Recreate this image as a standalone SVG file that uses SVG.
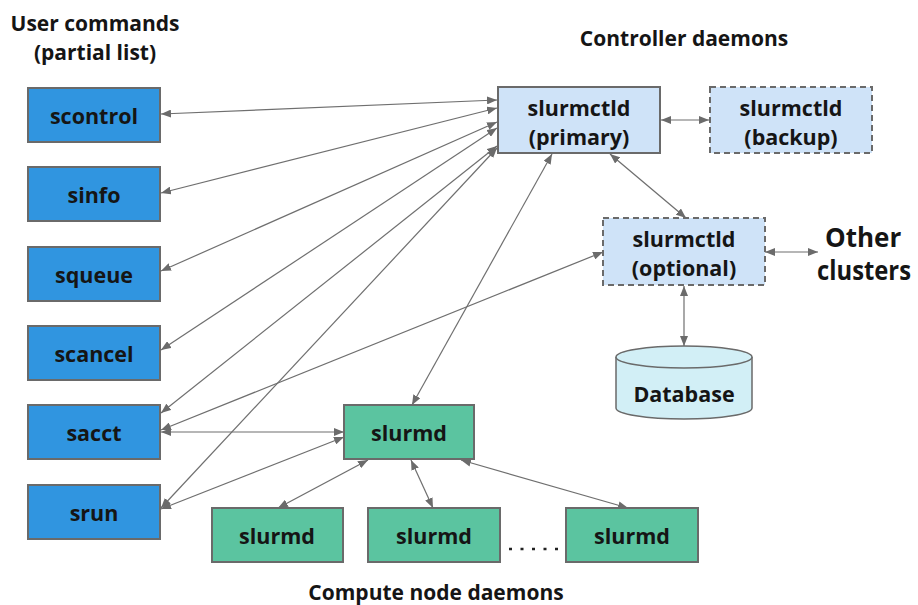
<svg xmlns="http://www.w3.org/2000/svg" width="918" height="605" viewBox="0 0 918 605">
  <defs>
    <marker id="arrow" viewBox="0 0 10 8" refX="10" refY="4" markerWidth="10" markerHeight="8" markerUnits="userSpaceOnUse" orient="auto-start-reverse">
      <path d="M0,0 L10,4 L0,8 z" fill="#6b6b6b"/>
    </marker>
    <style>
      .lbl { font-family: "Open Sans", "Liberation Sans", sans-serif; font-weight: 700; fill: #151515; text-anchor: middle; }
      .node { font-size: 21.5px; }
      .title { font-size: 21px; }
      .big { font-size: 26px; text-anchor: start; }
      .cmd rect { fill: #3095e0; stroke: #6a6a6a; stroke-width: 2; }
      .ctl rect { fill: #cfe3f8; stroke: #6a6a6a; stroke-width: 2; }
      .ctl.dash rect { stroke-dasharray: 6 4; }
      .cmp rect { fill: #5bc4a0; stroke: #6a6a6a; stroke-width: 2; }
      .db path, .db ellipse { fill: #d2eff6; stroke: #6a6a6a; stroke-width: 1.5; }
      .conn path { fill: none; stroke: #6f6f6f; stroke-width: 1.2; marker-start: url(#arrow); marker-end: url(#arrow); }
    </style>
  </defs>

  <rect width="918" height="605" fill="#ffffff"/>

  <!-- section titles -->
  <g id="titles" class="lbl title">
    <text x="95" y="31">User commands</text>
    <text x="95" y="60">(partial list)</text>
    <text x="684" y="46">Controller daemons</text>
    <text x="436" y="600">Compute node daemons</text>
  </g>

  <!-- connectors -->
  <g id="connectors" class="conn">
    <path d="M161,114 L497,100"/>
    <path d="M161,193 L497,108"/>
    <path d="M161,271 L497,122"/>
    <path d="M161,350 L497,128"/>
    <path d="M161,413 L497,146"/>
    <path d="M161,508 L497,148"/>
    <path d="M161,430 L603,252"/>
    <path d="M161,432 L344,432"/>
    <path d="M161,509 L344,437"/>
    <path d="M552,154 L412,405"/>
    <path d="M610,154 L686,218"/>
    <path d="M661,120 L709,120"/>
    <path d="M765,252 L818,252"/>
    <path d="M684,286 L684,346"/>
    <path d="M368,460 L278,508"/>
    <path d="M411,460 L433,508"/>
    <path d="M461,460 L628,508"/>
  </g>

  <!-- user commands -->
  <g id="scontrol" class="cmd"><rect x="28" y="88" width="132" height="54"/><text class="lbl node" x="94" y="124">scontrol</text></g>
  <g id="sinfo" class="cmd"><rect x="28" y="167" width="132" height="54"/><text class="lbl node" x="94" y="203">sinfo</text></g>
  <g id="squeue" class="cmd"><rect x="28" y="247" width="132" height="54"/><text class="lbl node" x="94" y="283">squeue</text></g>
  <g id="scancel" class="cmd"><rect x="28" y="326" width="132" height="54"/><text class="lbl node" x="94" y="362">scancel</text></g>
  <g id="sacct" class="cmd"><rect x="28" y="405" width="132" height="54"/><text class="lbl node" x="94" y="441">sacct</text></g>
  <g id="srun" class="cmd"><rect x="28" y="485" width="132" height="54"/><text class="lbl node" x="94" y="521">srun</text></g>

  <!-- controller daemons -->
  <g id="slurmctld-primary" class="ctl"><rect x="498" y="87" width="162" height="66"/><text class="lbl node" x="579" y="116">slurmctld</text><text class="lbl node" x="579" y="145">(primary)</text></g>
  <g id="slurmctld-backup" class="ctl dash"><rect x="710" y="87" width="162" height="66"/><text class="lbl node" x="791" y="116">slurmctld</text><text class="lbl node" x="791" y="145">(backup)</text></g>
  <g id="slurmctld-optional" class="ctl dash"><rect x="603" y="218" width="162" height="67"/><text class="lbl node" x="684" y="247">slurmctld</text><text class="lbl node" x="684" y="276">(optional)</text></g>

  <g id="other-clusters" class="lbl big">
    <text x="825" y="247">Other</text>
    <text x="817" y="280" textLength="94" lengthAdjust="spacingAndGlyphs">clusters</text>
  </g>

  <!-- accounting database -->
  <g id="database" class="db">
    <path d="M616,357 L616,408 A68,11 0 0 0 752,408 L752,357"/>
    <ellipse cx="684" cy="357" rx="68" ry="11"/>
    <text class="lbl node" x="684" y="402">Database</text>
  </g>

  <!-- compute node daemons -->
  <g id="slurmd-main" class="cmp"><rect x="344" y="405" width="130" height="54"/><text class="lbl node" x="409" y="441">slurmd</text></g>
  <g id="slurmd-1" class="cmp"><rect x="212" y="508" width="131" height="54"/><text class="lbl node" x="277" y="544">slurmd</text></g>
  <g id="slurmd-2" class="cmp"><rect x="368" y="508" width="132" height="54"/><text class="lbl node" x="434" y="544">slurmd</text></g>
  <g id="slurmd-3" class="cmp"><rect x="566" y="508" width="132" height="54"/><text class="lbl node" x="632" y="544">slurmd</text></g>
  <line id="ellipsis" x1="509" y1="549" x2="558" y2="549" stroke="#222" stroke-width="2.5" stroke-dasharray="3 8.5"/>
</svg>
